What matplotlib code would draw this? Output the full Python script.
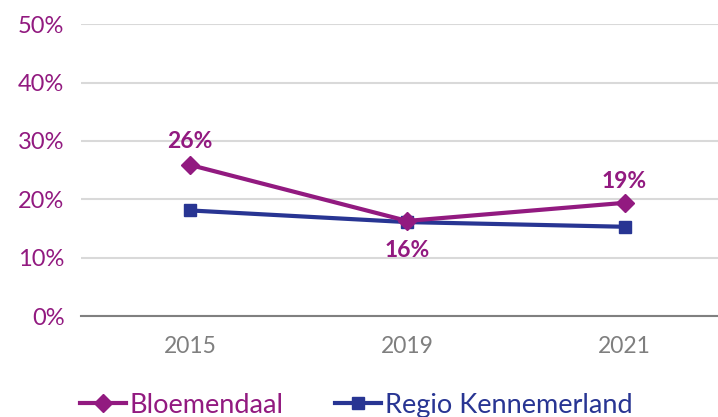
import matplotlib.pyplot as plt

plt.rcParams['font.family'] = ['Lato', 'DejaVu Sans']

years = ['2015', '2019', '2021']
bloemendaal = [25.9, 16.3, 19.4]
regio = [18.1, 16.1, 15.3]
bloem_labels = ['26%', '16%', '19%']
yticks = [0, 10, 20, 30, 40, 50]

purple = '#921A80'
navy = '#283593'

fig = plt.figure(figsize=(7.18, 4.17), dpi=100)
ax = fig.add_axes([0.113, 0.242, 0.887, 0.70])

x = list(range(len(years)))
ax.plot(x, bloemendaal, color=purple, lw=3, marker='D', ms=9, label='Bloemendaal', zorder=3)
ax.plot(x, regio, color=navy, lw=3, marker='s', ms=9, label='Regio Kennemerland', zorder=2)

# data labels
offsets = [17, -21, 15]
for i, (v, lab) in enumerate(zip(bloemendaal, bloem_labels)):
    ax.annotate(lab, (i, v), xytext=(0, offsets[i]), textcoords='offset points',
                ha='center', va='center', color=purple, fontsize=16.5, fontweight='bold')

ax.set_xlim(-0.5, 2.43)
ax.set_ylim(0, 50)
ax.set_xticks(x)
ax.set_xticklabels(years, color='#7F7F7F', fontsize=16.5)
ax.set_yticks(yticks)
ax.set_yticklabels([f'{t}%' for t in yticks], color=purple, fontsize=17)
ax.tick_params(length=0, pad=12)
ax.tick_params(axis='x', pad=14)
ax.yaxis.grid(True, color='#D9D9D9', lw=1.5)
ax.set_axisbelow(True)
for s in ['top', 'right', 'left']:
    ax.spines[s].set_visible(False)
ax.spines['bottom'].set_color('#808080')
ax.spines['bottom'].set_linewidth(1.5)

leg = fig.legend(loc='lower left', bbox_to_anchor=(0.077, -0.06), ncol=2, frameon=False,
                 fontsize=19.5, handlelength=1.7, columnspacing=1.9, handletextpad=0.15)
for txt, c in zip(leg.get_texts(), [purple, navy]):
    txt.set_color(c)

fig.savefig('out.png', dpi=100)
